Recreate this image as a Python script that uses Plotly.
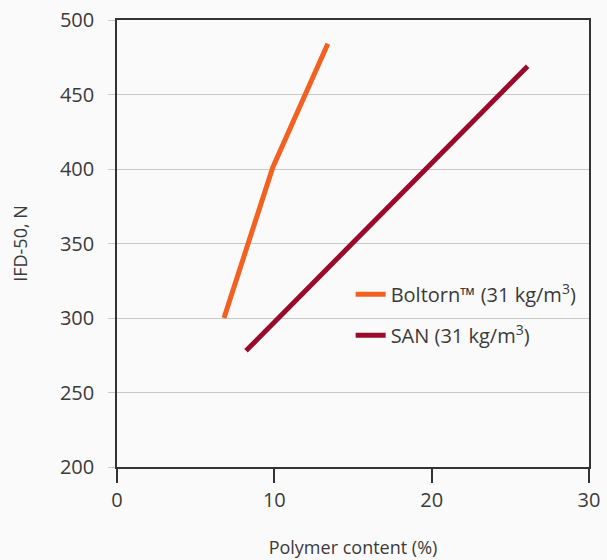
import plotly.graph_objects as go

# Data
boltorn_x = [6.8, 9.9, 13.4]
boltorn_y = [300, 401, 484]
san_x = [8.2, 26.1]
san_y = [278, 469]

x_ticks = [0, 10, 20, 30]
y_ticks = [200, 250, 300, 350, 400, 450, 500]

ORANGE = "#f26122"
DARKRED = "#9a0a2b"
TXT = "#3a3a3a"
FONT = "Open Sans"

fig = go.Figure()
fig.add_trace(go.Scatter(
    x=boltorn_x, y=boltorn_y, mode="lines",
    line=dict(color=ORANGE, width=5),
    name="Boltorn™ (31 kg/m<sup>3</sup>)", legendgroup="a"))
fig.add_trace(go.Scatter(
    x=san_x, y=san_y, mode="lines",
    line=dict(color=DARKRED, width=5),
    name="SAN (31 kg/m<sup>3</sup>)", legendgroup="b"))

fig.update_layout(
    width=607, height=560,
    margin=dict(l=117, r=18, t=20, b=93),
    paper_bgcolor="#fbfafa", plot_bgcolor="#fbfafa",
    font=dict(family=FONT, color=TXT, size=20),
    showlegend=True,
    legend=dict(x=0.495, y=0.43, xanchor="left", yanchor="top",
                bgcolor="rgba(0,0,0,0)", font=dict(size=20, color=TXT),
                tracegroupgap=12),
)
fig.update_xaxes(
    range=[0, 30], tickvals=x_ticks, showgrid=False, zeroline=False,
    showline=True, linecolor="#333333", linewidth=1.5, mirror=True,
    ticks="outside", ticklen=14, tickcolor="#333333", tickwidth=1.5,
    automargin=False,
    title=dict(text="Polymer content (%)", font=dict(size=18, color=TXT), standoff=30),
    tickfont=dict(size=20, color=TXT),
)
fig.update_yaxes(
    range=[200, 500], tickvals=y_ticks, showgrid=True, gridcolor="#c9c9c9",
    gridwidth=1.2, zeroline=False,
    showline=True, linecolor="#333333", linewidth=1.5, mirror=True,
    ticks="outside", ticklen=7, tickcolor="#c9c9c9", tickwidth=1.2,
    ticklabelstandoff=10, automargin=False,
    title=dict(text="IFD-50, N", font=dict(size=18, color=TXT), standoff=28),
    tickfont=dict(size=20, color=TXT),
)

fig.write_html("out.html", config={"displayModeBar": False},
               post_script="document.body.style.margin='0';")
